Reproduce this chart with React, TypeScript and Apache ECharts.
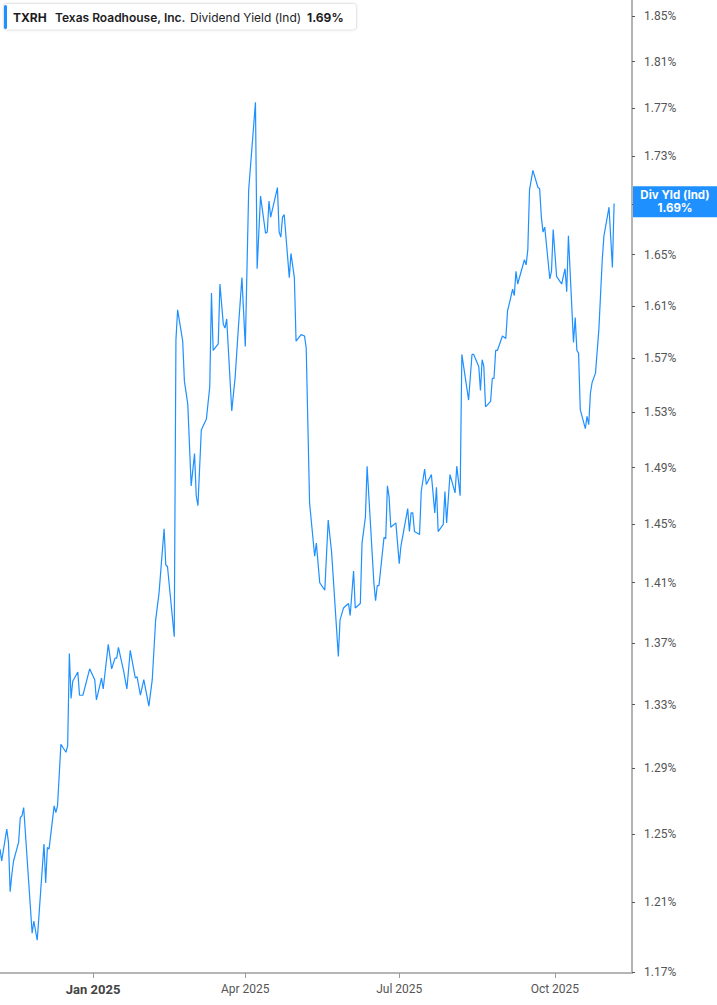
import React, { useEffect, useRef } from 'react';
import * as echarts from 'echarts';

// trading days
const dates = [
  '2024-11-07', '2024-11-08', '2024-11-11', '2024-11-12', '2024-11-13', '2024-11-14', '2024-11-15', '2024-11-18', '2024-11-19', '2024-11-20', '2024-11-21', '2024-11-26', '2024-11-27', '2024-11-29',
  '2024-12-03', '2024-12-04', '2024-12-05', '2024-12-06', '2024-12-09', '2024-12-10', '2024-12-11', '2024-12-13', '2024-12-16', '2024-12-17', '2024-12-18', '2024-12-19', '2024-12-20', '2024-12-23', '2024-12-24', '2024-12-26', '2024-12-30',
  '2025-01-02', '2025-01-03', '2025-01-06', '2025-01-07', '2025-01-10', '2025-01-12', '2025-01-14', '2025-01-15', '2025-01-16', '2025-01-19', '2025-01-21', '2025-01-23', '2025-01-26', '2025-01-27', '2025-01-29', '2025-01-31',
  '2025-02-03', '2025-02-05', '2025-02-07', '2025-02-09', '2025-02-12', '2025-02-13', '2025-02-14', '2025-02-18', '2025-02-19', '2025-02-20', '2025-02-23', '2025-02-24', '2025-02-26', '2025-02-28',
  '2025-03-02', '2025-03-03', '2025-03-04', '2025-03-06', '2025-03-09', '2025-03-11', '2025-03-12', '2025-03-13', '2025-03-16', '2025-03-17', '2025-03-19', '2025-03-20', '2025-03-21', '2025-03-24', '2025-03-26', '2025-03-28', '2025-03-30',
  '2025-04-01', '2025-04-03', '2025-04-07', '2025-04-08', '2025-04-10', '2025-04-13', '2025-04-14', '2025-04-15', '2025-04-16', '2025-04-20', '2025-04-21', '2025-04-22', '2025-04-23', '2025-04-24', '2025-04-27', '2025-04-28', '2025-04-30',
  '2025-05-01', '2025-05-04', '2025-05-06', '2025-05-07', '2025-05-09', '2025-05-12', '2025-05-13', '2025-05-15', '2025-05-18', '2025-05-20', '2025-05-22', '2025-05-26', '2025-05-27', '2025-05-29',
  '2025-06-01', '2025-06-02', '2025-06-04', '2025-06-05', '2025-06-08', '2025-06-09', '2025-06-11', '2025-06-12', '2025-06-16', '2025-06-17', '2025-06-18', '2025-06-19', '2025-06-22', '2025-06-23', '2025-06-24', '2025-06-25', '2025-06-26', '2025-06-29',
  '2025-07-01', '2025-07-02', '2025-07-06', '2025-07-07', '2025-07-08', '2025-07-09', '2025-07-10', '2025-07-13', '2025-07-14', '2025-07-16', '2025-07-17', '2025-07-20', '2025-07-22', '2025-07-23', '2025-07-24', '2025-07-27', '2025-07-28', '2025-07-29', '2025-07-31',
  '2025-08-03', '2025-08-04', '2025-08-06', '2025-08-07', '2025-08-09', '2025-08-11', '2025-08-13', '2025-08-14', '2025-08-17', '2025-08-18', '2025-08-19', '2025-08-20', '2025-08-21', '2025-08-24', '2025-08-25', '2025-08-26', '2025-08-27', '2025-08-28', '2025-08-31',
  '2025-09-02', '2025-09-03', '2025-09-05', '2025-09-06', '2025-09-07', '2025-09-08', '2025-09-09', '2025-09-13', '2025-09-14', '2025-09-15', '2025-09-16', '2025-09-18', '2025-09-21', '2025-09-22', '2025-09-23', '2025-09-24', '2025-09-25', '2025-09-28', '2025-09-29', '2025-09-30',
  '2025-10-02', '2025-10-05', '2025-10-07', '2025-10-08', '2025-10-09', '2025-10-12', '2025-10-13', '2025-10-14', '2025-10-15', '2025-10-16', '2025-10-19', '2025-10-20', '2025-10-21', '2025-10-22', '2025-10-23', '2025-10-25', '2025-10-27', '2025-10-29', '2025-10-30',
  '2025-11-02', '2025-11-04', '2025-11-05',
];

// dividend yield (%), same order as dates
const yieldValues = [
  1.241, 1.234, 1.253, 1.245, 1.216, 1.226, 1.234, 1.245, 1.260, 1.261, 1.266, 1.192, 1.199, 1.188,
  1.244, 1.221, 1.242, 1.241, 1.267, 1.263, 1.267, 1.305, 1.300, 1.304, 1.363, 1.334, 1.345, 1.351, 1.336, 1.336, 1.353,
  1.346, 1.333, 1.347, 1.340, 1.369, 1.353, 1.360, 1.360, 1.367, 1.352, 1.340, 1.365, 1.347, 1.348, 1.336, 1.346,
  1.329, 1.346, 1.385, 1.403, 1.447, 1.422, 1.421, 1.374, 1.584, 1.607, 1.583, 1.553, 1.536, 1.477,
  1.500, 1.470, 1.463, 1.517, 1.525, 1.549, 1.620, 1.576, 1.581, 1.627, 1.596, 1.593, 1.600, 1.531, 1.556, 1.595, 1.632,
  1.579, 1.702, 1.775, 1.639, 1.697, 1.667, 1.668, 1.693, 1.680, 1.704, 1.668, 1.664, 1.680, 1.682, 1.632, 1.651, 1.632,
  1.583, 1.588, 1.587, 1.578, 1.465, 1.428, 1.437, 1.410, 1.405, 1.453, 1.431, 1.361, 1.385, 1.393,
  1.396, 1.388, 1.418, 1.393, 1.396, 1.437, 1.455, 1.491, 1.410, 1.398, 1.408, 1.408, 1.441, 1.440, 1.477, 1.469, 1.448, 1.451,
  1.423, 1.435, 1.461, 1.445, 1.458, 1.458, 1.445, 1.443, 1.473, 1.489, 1.478, 1.485, 1.458, 1.476, 1.445, 1.450, 1.473, 1.451, 1.485,
  1.472, 1.491, 1.470, 1.573, 1.556, 1.539, 1.573, 1.573, 1.564, 1.546, 1.569, 1.564, 1.534, 1.538, 1.555, 1.555, 1.576, 1.576, 1.587,
  1.585, 1.606, 1.617, 1.623, 1.618, 1.637, 1.627, 1.646, 1.642, 1.654, 1.702, 1.718, 1.704, 1.703, 1.680, 1.668, 1.672, 1.631, 1.637, 1.670,
  1.633, 1.627, 1.639, 1.621, 1.665, 1.582, 1.601, 1.576, 1.574, 1.532, 1.518, 1.527, 1.521, 1.544, 1.552, 1.559, 1.592, 1.646, 1.665,
  1.688, 1.640, 1.691,
];

const yTicks = [1.17, 1.21, 1.25, 1.29, 1.33, 1.37, 1.41, 1.45, 1.49, 1.53, 1.57, 1.61, 1.65, 1.69, 1.73, 1.77, 1.81, 1.85];
const xTicks = ['2025-01-01', '2025-04-01', '2025-07-01', '2025-10-01'];
const monthNames = ['Jan', 'Feb', 'Mar', 'Apr', 'May', 'Jun', 'Jul', 'Aug', 'Sep', 'Oct', 'Nov', 'Dec'];

const FONT = 'Inter, "Noto Sans", sans-serif';
const AXIS_FONT = 'Roboto, "Noto Sans", sans-serif';
const BLUE = '#1e90ff';

const toTime = (s: string) => {
  const [y, m, d] = s.split('-').map(Number);
  return new Date(y, m - 1, d).getTime();
};

const App: React.FC = () => {
  const chartRef = useRef<HTMLDivElement>(null);

  useEffect(() => {
    document.body.style.margin = '0';
    if (!chartRef.current) return;
    const chart = echarts.init(chartRef.current, undefined, { renderer: 'svg' });

    // log scale: plot ln(value) on a value axis; x as timestamps on a value axis
    const seriesData = dates.map((d, i) => [toTime(d), Math.log(yieldValues[i])]);
    const last = yieldValues[yieldValues.length - 1];

    const legendText = (text: string, x: number, weight: string | number) => ({
      type: 'text',
      x,
      y: 17,
      z: 11,
      style: {
        text,
        fill: '#1d1d1f',
        font: `${weight} 12px ${FONT}`,
        verticalAlign: 'middle',
      },
    });

    const option = {
      animation: false,
      grid: { left: 0, right: 85, top: 0, bottom: 32, containLabel: false },
      xAxis: {
        type: 'value',
        min: toTime('2024-11-07'),
        max: new Date(2025, 10, 15, 14).getTime(),
        scale: true,
        splitLine: { show: false },
        axisLine: { show: true, lineStyle: { color: '#b5b5b5', width: 2 } },
        axisTick: {
          show: true,
          length: 5,
          customValues: xTicks.map(toTime),
          lineStyle: { color: '#9a9a9a', width: 1 },
        },
        axisLabel: {
          customValues: xTicks.map(toTime),
          margin: 10,
          color: '#555',
          fontSize: 12,
          fontFamily: AXIS_FONT,
          formatter: (v: number) => {
            const d = new Date(v);
            const label = `${monthNames[d.getMonth()]} ${d.getFullYear()}`;
            return d.getMonth() === 0 ? `{b|${label}}` : label;
          },
          rich: {
            b: { fontWeight: 'bold', color: '#444', fontSize: 13, fontFamily: AXIS_FONT },
          },
        },
      },
      yAxis: {
        type: 'value',
        position: 'right',
        min: Math.log(1.1695),
        max: Math.log(1.8642),
        scale: true,
        splitLine: { show: false },
        axisLine: { show: true, lineStyle: { color: '#9a9a9a', width: 1.5 } },
        axisTick: {
          show: true,
          length: 3,
          customValues: yTicks.map(Math.log),
          lineStyle: { color: '#555', width: 1 },
        },
        axisLabel: {
          customValues: yTicks.map(Math.log),
          margin: 12,
          color: '#555',
          fontSize: 12,
          fontFamily: AXIS_FONT,
          formatter: (v: number) => `${Math.exp(v).toFixed(2)}%`,
        },
      },
      series: [
        {
          type: 'line',
          data: seriesData,
          symbol: 'none',
          clip: false,
          lineStyle: { color: BLUE, width: 1.2 },
          markLine: {
            silent: true,
            symbol: 'none',
            lineStyle: { color: 'rgba(0,0,0,0)', width: 0 },
            data: [{ yAxis: Math.log(last) }],
            label: {
              show: true,
              position: 'end',
              distance: 1,
              offset: [0, 8],
              backgroundColor: BLUE,
              padding: [3, 0, 3, 0],
              formatter: `{a|Div Yld (Ind)}\n{a|${last.toFixed(2)}%}`,
              rich: {
                a: {
                  width: 84,
                  align: 'center',
                  color: '#fff',
                  fontWeight: 'bold',
                  fontSize: 11.5,
                  lineHeight: 12.5,
                  fontFamily: FONT,
                },
              },
            },
          },
        },
      ],
      graphic: [
        {
          type: 'rect',
          z: 10,
          shape: { x: 3.5, y: 3.5, width: 353, height: 26.5, r: 3 },
          style: {
            fill: '#fff',
            stroke: '#e4e4e4',
            lineWidth: 1,
            shadowBlur: 3,
            shadowColor: 'rgba(0,0,0,0.08)',
          },
        },
        {
          type: 'rect',
          z: 11,
          shape: { x: 4, y: 5, width: 3, height: 24, r: 1.5 },
          style: { fill: BLUE },
        },
        legendText('TXRH', 13, 700),
        legendText('Texas Roadhouse, Inc.', 55, 600),
        legendText('Dividend Yield (Ind)', 190, 400),
        legendText(`${last.toFixed(2)}%`, 307, 700),
      ],
    };

    chart.setOption(option);

    const handleResize = () => chart.resize();
    window.addEventListener('resize', handleResize);
    return () => {
      window.removeEventListener('resize', handleResize);
      chart.dispose();
    };
  }, []);

  return <div ref={chartRef} style={{ width: '717px', height: '1005px' }} />;
};

export default App;
